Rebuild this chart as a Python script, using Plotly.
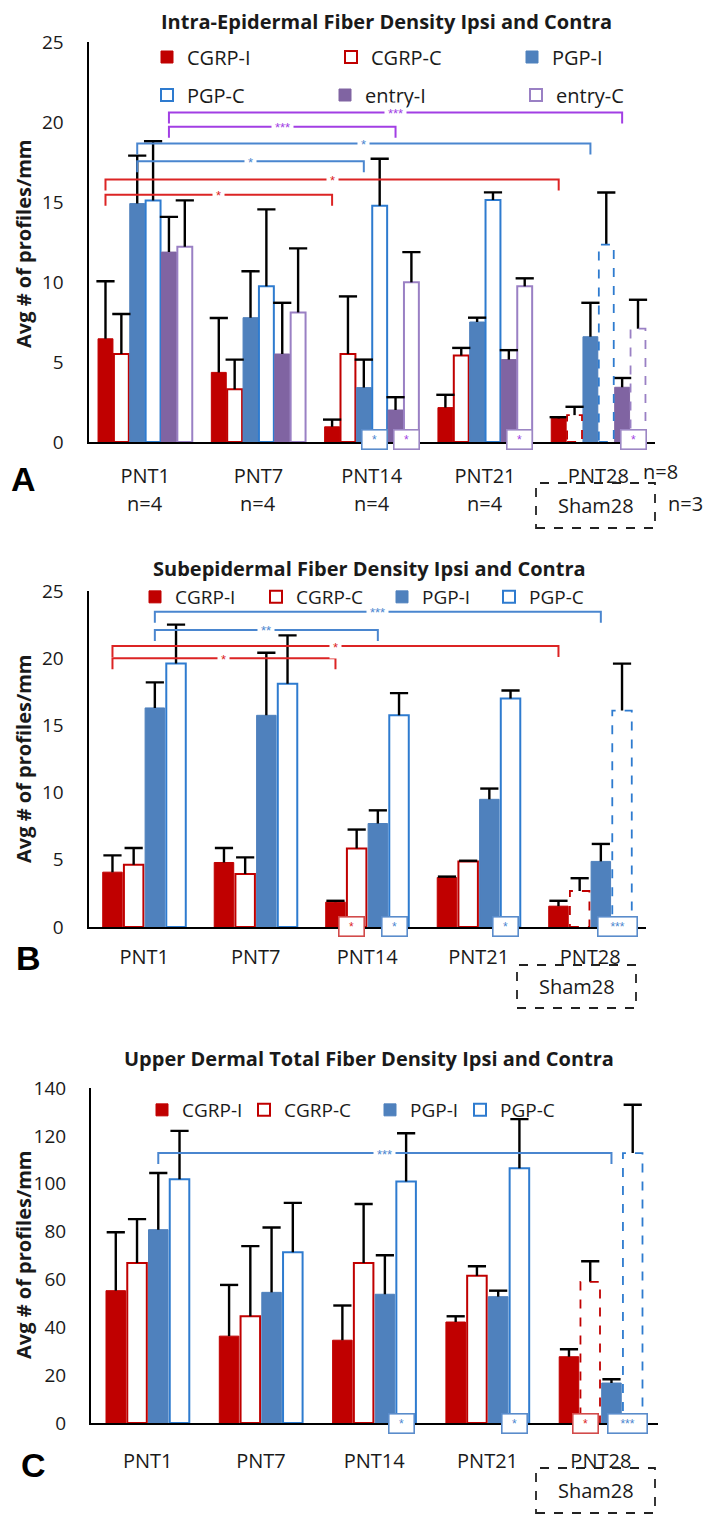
import plotly.graph_objects as go

W, H = 714, 1517
OFF = 8                      # page body margin of the html page
FW, FH = W - OFF, H - OFF    # figure size so that it fits the window

categories = ["PNT1", "PNT7", "PNT14", "PNT21", "PNT28"]

# ---------------- Panel A: Intra-Epidermal Fiber Density (mean, +SD) ----------------
a_names = ["CGRP-I", "CGRP-C", "PGP-I", "PGP-C", "entry-I", "entry-C"]
a_cgrp_i = [6.45, 4.35, 0.95, 2.15, 1.47]
a_cgrp_i_sd = [3.6, 3.4, 0.45, 0.8, 0.08]
a_cgrp_c = [5.5, 3.3, 5.5, 5.4, 1.68]
a_cgrp_c_sd = [2.5, 1.85, 3.6, 0.48, 0.52]
a_pgp_i = [14.9, 7.77, 3.4, 7.5, 6.58]
a_pgp_i_sd = [3.0, 2.9, 1.75, 0.27, 2.12]
a_pgp_c = [15.1, 9.73, 14.77, 15.13, 12.33]
a_pgp_c_sd = [3.7, 4.81, 2.93, 0.47, 3.26]
a_entry_i = [11.87, 5.5, 2.0, 5.15, 3.42]
a_entry_i_sd = [2.2, 3.2, 0.8, 0.59, 0.58]
a_entry_c = [12.2, 8.1, 9.98, 9.73, 7.08]
a_entry_c_sd = [2.9, 4.0, 1.89, 0.5, 1.81]
a_n = ["n=4", "n=4", "n=4", "n=4"]
# significance brackets between time points: (series, from, to, level, label)
a_brackets = [("CGRP-I", 0, 2, 15.45, "*"), ("CGRP-I", 0, 4, 16.4, "*"),
              ("PGP-I", 0, 2, 17.55, "*"), ("PGP-I", 0, 4, 18.65, "*"),
              ("entry-I", 0, 2, 19.7, "***"), ("entry-I", 0, 4, 20.6, "***")]
# ipsi vs contra significance boxes: (series, category index, label)
a_boxes = [("PGP-C", 2, "*"), ("entry-C", 2, "*"), ("entry-C", 3, "*"), ("entry-C", 4, "*")]

# ---------------- Panel B: Subepidermal Fiber Density ----------------
b_names = ["CGRP-I", "CGRP-C", "PGP-I", "PGP-C"]
b_cgrp_i = [4.08, 4.8, 1.85, 3.68, 1.55]
b_cgrp_i_sd = [1.25, 1.08, 0.1, 0.07, 0.4]
b_cgrp_c = [4.63, 3.95, 5.85, 4.88, 2.68]
b_cgrp_c_sd = [1.25, 1.23, 1.4, 0.05, 0.95]
b_pgp_i = [16.3, 15.75, 7.7, 9.5, 4.88]
b_pgp_i_sd = [1.9, 4.65, 0.98, 0.8, 1.3]
b_pgp_c = [19.6, 18.1, 15.75, 17.0, 16.1]
b_pgp_c_sd = [2.9, 3.6, 1.65, 0.6, 3.5]
b_brackets = [("CGRP-I", 0, 2, 20.0, "*"), ("CGRP-I", 0, 4, 20.9, "*"),
              ("PGP-I", 0, 2, 22.1, "**"), ("PGP-I", 0, 4, 23.45, "***")]
b_boxes = [("CGRP-C", 2, "*"), ("PGP-C", 2, "*"), ("PGP-C", 3, "*"), ("PGP-C", 4, "***")]

# ---------------- Panel C: Upper Dermal Total Fiber Density ----------------
c_names = ["CGRP-I", "CGRP-C", "PGP-I", "PGP-C"]
c_cgrp_i = [55.3, 36.3, 34.6, 42.2, 27.7]
c_cgrp_i_sd = [24.4, 21.4, 14.5, 2.4, 3.1]
c_cgrp_c = [66.9, 44.6, 66.9, 61.5, 59.0]
c_cgrp_c_sd = [18.3, 29.3, 24.6, 4.0, 8.6]
c_pgp_i = [80.8, 54.6, 53.8, 52.8, 16.7]
c_pgp_i_sd = [23.7, 27.1, 16.3, 2.5, 1.6]
c_pgp_c = [101.9, 71.4, 100.9, 106.5, 112.8]
c_pgp_c_sd = [20.2, 20.6, 20.2, 20.5, 20.2]
c_brackets = [("PGP-I", 0, 4, 112.8, "***")]
c_boxes = [("PGP-C", 2, "*"), ("PGP-C", 3, "*"), ("CGRP-C", 4, "*"), ("PGP-C", 4, "***")]

sham_index = 4  # PNT28 contra bars are the Sham28 group (dashed)

# ---------------- styling ----------------
FONT = "Open Sans, Lato, sans-serif"
FONT_B = "Liberation Sans, Arial, sans-serif"
TXT = "#1a1a1a"
RED, BLUE, BLUE_C = "#C00000", "#4F81BD", "#2E7BCF"
PURPLE, PURPLE_C = "#8064A2", "#9A80C4"
BR_RED, BR_BLUE, BR_PURPLE = "#DC2424", "#4A86CF", "#A23FE4"
style = {
    "CGRP-I": dict(fill=RED, line=RED, br=BR_RED, box="#D24B4B"),
    "CGRP-C": dict(fill="white", line=RED, br=BR_RED, box="#D24B4B"),
    "PGP-I": dict(fill=BLUE, line=BLUE, br=BR_BLUE, box="#5A8CCB"),
    "PGP-C": dict(fill="white", line=BLUE_C, br=BR_BLUE, box="#5A8CCB"),
    "entry-I": dict(fill=PURPLE, line=PURPLE, br=BR_PURPLE, box="#9C86C4"),
    "entry-C": dict(fill="white", line=PURPLE_C, br=BR_PURPLE, box="#9C86C4"),
}


def xp(px):
    return (px - OFF) / FW


def yp(py):
    return 1 - (py - OFF) / FH


panels = [
    dict(sfx="", x_px=(88.5, 655), y_px=(42, 442), yrange=[0, 25], dtick=5,
         names=a_names,
         vals=[a_cgrp_i, a_cgrp_c, a_pgp_i, a_pgp_c, a_entry_i, a_entry_c],
         sds=[a_cgrp_i_sd, a_cgrp_c_sd, a_pgp_i_sd, a_pgp_c_sd, a_entry_i_sd, a_entry_c_sd],
         brackets=a_brackets, boxes=a_boxes, bargap=0.16, groupgap=0.06,
         legends=["legend", "legend", "legend", "legend2", "legend2", "legend2"],
         lwidths=[139, 136, 120, 133, 146, 120], xstand=15, box_yshift=2),
    dict(sfx="2", x_px=(88.5, 646), y_px=(591, 927), yrange=[0, 25], dtick=5,
         names=b_names, vals=[b_cgrp_i, b_cgrp_c, b_pgp_i, b_pgp_c],
         sds=[b_cgrp_i_sd, b_cgrp_c_sd, b_pgp_i_sd, b_pgp_c_sd],
         brackets=b_brackets, boxes=b_boxes, bargap=0.24, groupgap=0.08,
         legends=["legend3"] * 4, lwidths=[76, 81, 62, 70], xstand=11, box_yshift=0),
    dict(sfx="3", x_px=(91, 657.5), y_px=(1088, 1423), yrange=[0, 140], dtick=20,
         names=c_names, vals=[c_cgrp_i, c_cgrp_c, c_pgp_i, c_pgp_c],
         sds=[c_cgrp_i_sd, c_cgrp_c_sd, c_pgp_i_sd, c_pgp_c_sd],
         brackets=c_brackets, boxes=c_boxes, bargap=0.25, groupgap=0.08,
         legends=["legend4"] * 4, lwidths=[57, 81, 45, 60], xstand=19, box_yshift=0),
]

fig = go.Figure()
shapes, annotations = [], []
layout_axes = {}
xs = list(range(len(categories)))


def ann(**kw):
    d = dict(showarrow=False, xanchor="center", yanchor="middle")
    d.update(kw)
    annotations.append(d)


for p in panels:
    xa_id, ya_id = "x" + p["sfx"], "y" + p["sfx"]
    n = len(p["names"])
    gw = 1 - p["bargap"]
    slot = gw / n
    bw = slot * (1 - p["groupgap"])
    offsets = [-gw / 2 + k * slot + slot * p["groupgap"] / 2 for k in range(n)]
    centers = [o + bw / 2 for o in offsets]
    ppu = (p["y_px"][1] - p["y_px"][0]) / (p["yrange"][1] - p["yrange"][0])

    stem_x, stem_y, cap_x, cap_y = [], [], [], []
    for k, name in enumerate(p["names"]):
        st = style[name]
        vals, sds = p["vals"][k], p["sds"][k]
        contra = name.endswith("-C")
        line_cols = [("rgba(0,0,0,0)" if (contra and i == sham_index) else st["line"]) for i in xs]
        fig.add_trace(go.Bar(
            x=xs, y=vals, name=name, offset=offsets[k], width=bw,
            marker=dict(color=st["fill"], line=dict(color=line_cols, width=2 if contra else 1)),
            xaxis=xa_id, yaxis=ya_id, legend=p["legends"][k], legendwidth=p["lwidths"][k],
            hoverinfo="skip"))
        if contra:
            shapes.append(dict(type="rect", xref=xa_id, yref=ya_id,
                               x0=sham_index + offsets[k], x1=sham_index + offsets[k] + bw,
                               y0=0, y1=vals[sham_index],
                               line=dict(color=st["line"], width=1.8, dash="dash"),
                               fillcolor="rgba(0,0,0,0)"))
        for i in xs:
            cx = i + centers[k]
            stem_x += [cx, cx, None]
            stem_y += [vals[i], vals[i] + sds[i], None]
            cap_x.append(cx)
            cap_y.append(vals[i] + sds[i])

    fig.add_trace(go.Scatter(x=stem_x, y=stem_y, mode="lines", line=dict(color="black", width=2.4),
                             xaxis=xa_id, yaxis=ya_id, showlegend=False, hoverinfo="skip"))
    fig.add_trace(go.Scatter(x=cap_x, y=cap_y, mode="markers",
                             marker=dict(symbol="line-ew", size=13, line=dict(color="black", width=2.4)),
                             xaxis=xa_id, yaxis=ya_id, showlegend=False, hoverinfo="skip"))

    # significance brackets
    drop = 11 / ppu
    for name, c0, c1, level, label in p["brackets"]:
        k = p["names"].index(name)
        xa, xb = c0 + centers[k], c1 + centers[k]
        col = style[name]["br"]
        shapes.append(dict(type="path", xref=xa_id, yref=ya_id,
                           path=f"M{xa},{level - drop} L{xa},{level} L{xb},{level} L{xb},{level - drop}",
                           line=dict(color=col, width=2)))
        ann(x=(xa + xb) / 2, y=level, xref=xa_id, yref=ya_id, text=label,
            bgcolor="white", borderpad=3, yshift=-1,
            font=dict(family=FONT_B, size=13, color=col))
    # ipsi-contra boxes
    for name, ci, label in p["boxes"]:
        k = p["names"].index(name)
        col = style[name]["br"]
        ann(x=ci + centers[k], y=0, xref=xa_id, yref=ya_id, text=label,
            bgcolor="white", bordercolor=style[name]["box"],
            borderwidth=1.6, borderpad=1, width=22 if len(label) == 1 else 36,
            height=16, yshift=p["box_yshift"], xshift=-5,
            font=dict(family=FONT_B, size=12, color=col))

    layout_axes["xaxis" + p["sfx"]] = dict(
        domain=[xp(p["x_px"][0]), xp(p["x_px"][1])], range=[-0.5, 4.5],
        tickvals=xs, ticktext=categories, anchor=ya_id,
        showline=True, linecolor="black", linewidth=2, ticks="", showgrid=False, zeroline=False,
        tickfont=dict(family=FONT, size=20, color=TXT), ticklabelstandoff=p["xstand"])
    layout_axes["yaxis" + p["sfx"]] = dict(
        domain=[yp(p["y_px"][1]), yp(p["y_px"][0])], range=p["yrange"], dtick=p["dtick"],
        anchor=xa_id, showline=True, linecolor="black", linewidth=2, ticks="",
        showgrid=False, zeroline=False,
        tickfont=dict(family=FONT, size=19, color=TXT), ticklabelstandoff=19)

# ---------------- texts ----------------
titles = [("Intra-Epidermal Fiber Density Ipsi and Contra", 386, 21.5),
          ("Subepidermal Fiber Density Ipsi and Contra", 370, 568),
          ("Upper Dermal Total Fiber Density Ipsi and Contra", 369, 1058)]
for t, x, y in titles:
    ann(x=xp(x), y=yp(y), xref="paper", yref="paper", text=f"<b>{t}</b>",
        font=dict(family=FONT, size=20, color=TXT))
for yc in [244, 759, 1255]:
    ann(x=xp(23), y=yp(yc), xref="paper", yref="paper",
        text="<b>Avg # of profiles/mm</b>", textangle=-90,
        font=dict(family=FONT, size=20, color=TXT))
for letter, x, y in [("A", 23, 479), ("B", 28, 958), ("C", 33, 1465)]:
    ann(x=xp(x), y=yp(y), xref="paper", yref="paper", text=f"<b>{letter}</b>",
        font=dict(family=FONT_B, size=34, color="black"))
for i, lab in enumerate(a_n):
    ann(x=i, y=yp(504), xref="x", yref="paper", text=lab,
        font=dict(family=FONT, size=20, color=TXT))
ann(x=xp(660), y=yp(471), xref="paper", yref="paper", text="n=8",
    font=dict(family=FONT, size=20, color=TXT))
ann(x=xp(685), y=yp(504), xref="paper", yref="paper", text="n=3",
    font=dict(family=FONT, size=20, color=TXT))
for (x0, x1, y0, y1) in [(536, 655, 483, 528), (517, 636, 965, 1008), (536, 655, 1468, 1513)]:
    shapes.append(dict(type="rect", xref="paper", yref="paper", x0=xp(x0), x1=xp(x1),
                       y0=yp(y1), y1=yp(y0), line=dict(color="#222", width=1.8, dash="dash")))
    ann(x=xp((x0 + x1) / 2), y=yp((y0 + y1) / 2), xref="paper", yref="paper",
        text="Sham28", font=dict(family=FONT, size=20, color=TXT))

leg_common = dict(orientation="h", xanchor="left", yanchor="middle", bgcolor="rgba(0,0,0,0)",
                  borderwidth=0, traceorder="normal")
fig.update_layout(
    width=FW, height=FH, margin=dict(l=0, r=0, t=0, b=0, pad=0, autoexpand=False),
    paper_bgcolor="white", plot_bgcolor="white", barmode="overlay",
    showlegend=True,
    legend=dict(x=xp(147), y=yp(57), font=dict(family=FONT, size=20, color=TXT), **leg_common),
    legend2=dict(x=xp(147), y=yp(95), font=dict(family=FONT, size=20, color=TXT), **leg_common),
    legend3=dict(x=xp(135), y=yp(597), font=dict(family=FONT, size=19, color=TXT), **leg_common),
    legend4=dict(x=xp(142), y=yp(1110), font=dict(family=FONT, size=19, color=TXT), **leg_common),
    shapes=shapes, annotations=annotations, **layout_axes)

fig.write_html("out.html")
